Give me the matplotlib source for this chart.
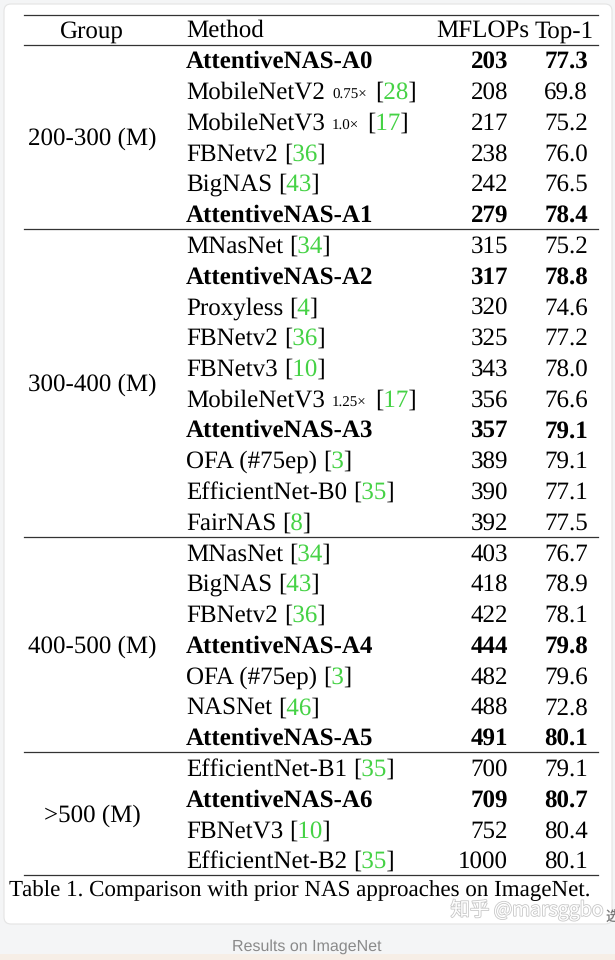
import matplotlib.pyplot as plt
from matplotlib.patches import FancyBboxPatch, Rectangle
from matplotlib.textpath import TextPath
from matplotlib.font_manager import FontProperties
from matplotlib.transforms import Bbox, TransformedBbox
import matplotlib.patheffects as pe

plt.rcParams['text.hinting'] = 'no_hinting'
plt.rcParams['text.hinting_factor'] = 1

groups = ['200-300 (M)', '300-400 (M)', '400-500 (M)', '>500 (M)']
group_sizes = [6, 10, 7, 4]
methods = ['AttentiveNAS-A0', 'MobileNetV2', 'MobileNetV3', 'FBNetv2', 'BigNAS', 'AttentiveNAS-A1',
           'MNasNet', 'AttentiveNAS-A2', 'Proxyless', 'FBNetv2', 'FBNetv3', 'MobileNetV3',
           'AttentiveNAS-A3', 'OFA (#75ep)', 'EfficientNet-B0', 'FairNAS',
           'MNasNet', 'BigNAS', 'FBNetv2', 'AttentiveNAS-A4', 'OFA (#75ep)', 'NASNet', 'AttentiveNAS-A5',
           'EfficientNet-B1', 'AttentiveNAS-A6', 'FBNetV3', 'EfficientNet-B2']
multipliers = ['', '0.75×', '1.0×', '', '', '',
               '', '', '', '', '', '1.25×', '', '', '', '',
               '', '', '', '', '', '', '',
               '', '', '', '']
cites = ['', '28', '17', '36', '43', '',
         '34', '', '4', '36', '10', '17', '', '3', '35', '8',
         '34', '43', '36', '', '3', '46', '',
         '35', '', '10', '35']
mflops = [203, 208, 217, 238, 242, 279,
          315, 317, 320, 325, 343, 356, 357, 389, 390, 392,
          403, 418, 422, 444, 482, 488, 491,
          700, 709, 752, 1000]
top1 = [77.3, 69.8, 75.2, 76.0, 76.5, 78.4,
        75.2, 78.8, 74.6, 77.2, 78.0, 76.6, 79.1, 79.1, 77.1, 77.5,
        76.7, 78.9, 78.1, 79.8, 79.6, 72.8, 80.1,
        79.1, 80.7, 80.4, 80.1]
headers = ['Group', 'Method', 'MFLOPs', 'Top-1']
caption = 'Table 1. Comparison with prior NAS approaches on ImageNet.'

SERIF = 'Liberation Serif'
FS = 18
SMALL = 11
GREEN = '#45d245'

fig = plt.figure(figsize=(6.15, 9.6), dpi=100, facecolor='#f4f5f6')
ax = fig.add_axes([0, 0, 1, 1])
ax.set_xlim(0, 615)
ax.set_ylim(960, 0)
ax.axis('off')

ax.add_patch(Rectangle((0, 954), 615, 6, color='#f6eee6', lw=0))
ax.add_patch(FancyBboxPatch((4, 4), 608, 920, boxstyle='round,pad=0,rounding_size=7',
                            facecolor='white', edgecolor='#e4e4e4', lw=0.8))

y0 = 60
pitch = 30.77
base = 8


def txt(x, y, s, **kw):
    kw.setdefault('fontsize', FS)
    kw.setdefault('family', SERIF)
    return ax.text(x, y + base, s, va='baseline', **kw)


def ext(s, size=FS, weight='normal'):
    prop = FontProperties(family=SERIF, weight=weight)
    return TextPath((0, 0), s, size=size * 100 / 72, prop=prop).get_extents()


def adv(s, size=FS, weight='normal'):
    # pen advance of s, in pixels
    return ext(s + 'l', size, weight).x1 - ext('l', size, weight).x1


def clipped(x, y, s, x_lo, x_hi, color):
    t = txt(x, y, s, color=color)
    t.set_clip_box(TransformedBbox(Bbox([[x_lo, 0], [x_hi, 960]]), ax.transData))
    t.set_clip_on(True)


# rules
line_kw = dict(color='#333333', lw=0.9)
ax.plot([24, 598], [14.5, 14.5], **line_kw)
ax.plot([24, 598], [y0 - pitch / 2, y0 - pitch / 2], **line_kw)

# header
hy = y0 - pitch
txt(92, hy, headers[0], ha='center')
txt(186, hy, headers[1])
txt(529, hy, headers[2], ha='right')
txt(535, hy, headers[3])

row = 0
for g, n in zip(groups, group_sizes):
    mid = y0 + (row + (n - 1) / 2) * pitch
    txt(92, mid, g, ha='center')
    for i in range(row, row + n):
        y = y0 + i * pitch
        bold = methods[i].startswith('AttentiveNAS')
        w = 'bold' if bold else 'normal'
        x0 = 186
        txt(x0, y, methods[i], fontweight=w)
        if multipliers[i]:
            x1 = x0 + adv(methods[i] + ' ') + 1
            txt(x1, y, multipliers[i], fontsize=SMALL)
            xb = x1 + adv(multipliers[i], SMALL) + adv(' ') + 1
        else:
            xb = x0 + adv(methods[i] + ' ')
        if cites[i]:
            c = cites[i]
            s = '[' + c + ']'
            a = xb + (ext('[').x1 + adv('[') + ext(c).x0) / 2
            b = xb + (adv('[') + ext(c).x1 + adv('[' + c) + ext(']').x0) / 2
            clipped(xb, y, s, 0, a, 'black')
            clipped(xb, y, s, b, 615, 'black')
            clipped(xb, y, s, a, b, GREEN)
        txt(508, y, str(mflops[i]), ha='right', fontweight=w)
        txt(588, y, '%.1f' % top1[i], ha='right', fontweight=w)
    row += n
    ly = y0 + (row - 0.5) * pitch
    ax.plot([24, 598], [ly, ly], **line_kw)

txt(9, 888, caption, fontsize=16.85)

ax.text(527, 910, '知乎 @marsggbo', fontsize=14, ha='center', va='center',
        family=['Noto Sans CJK SC', 'DejaVu Sans'], color='white',
        path_effects=[pe.withStroke(linewidth=1.2, foreground='#c8c8c8')])
ax.text(613, 918, '选', fontsize=10, ha='center', va='center',
        family=['Noto Sans CJK SC'], color='#777777')
ax.text(307, 947, 'Results on ImageNet', fontsize=11.4, ha='center', va='center',
        family='Liberation Sans', color='#8a8a8a')

fig.savefig('out.png', dpi=100, facecolor=fig.get_facecolor())
